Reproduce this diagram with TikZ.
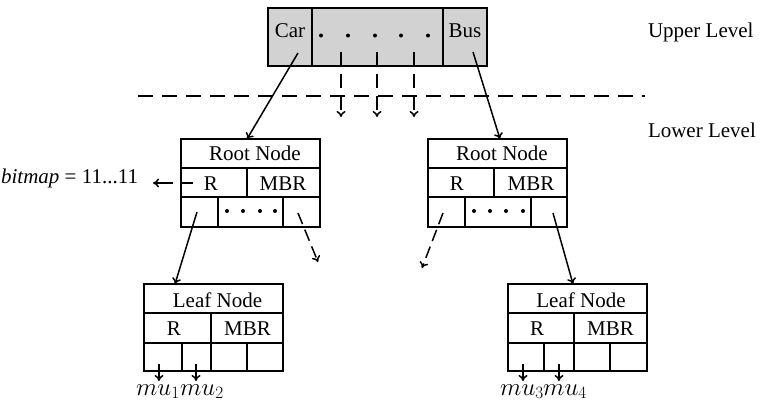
\documentclass[tikz,border=0pt]{standalone}
\usepackage{fontspec}
\setmainfont{Liberation Serif}
\usetikzlibrary{arrows.meta}
\begin{document}
\begin{tikzpicture}[x=1pt,y=-1pt,
  every node/.style={inner sep=0pt,outer sep=0pt,font=\fontsize{21}{25}\selectfont},
  box/.style={draw,line width=2.2pt,anchor=north west},
  cell/.style={line width=1.6pt},
  arr/.style={line width=1.5pt,-{To[length=6pt,width=9pt]}},
  darr/.style={arr,dash pattern=on 12pt off 6pt},
  vdarr/.style={arr,dash pattern=on 14pt off 8pt},
  dotn/.style={circle,fill,minimum size=4pt,inner sep=0pt},
  mathlbl/.style={anchor=base,font=\fontsize{23}{27}\selectfont}]
\useasboundingbox (0,0) rectangle (764,405);

% ---------- upper level box ----------
\node[box,fill=gray!35,minimum width=219pt,minimum height=58pt] (top) at (268,8) {};
\draw[cell] (312,8) -- (312,66);
\draw[cell] (443,8) -- (443,66);
\node[anchor=base] (car) at (290,37) {Car};
\node[anchor=base] (bus) at (465,37) {Bus};
\foreach \i/\x in {1/321,2/348,3/375,4/401,5/428}
  \node[dotn] (td\i) at (\x,35.5) {};

% dashed arrows down from the middle cell
\foreach \i/\x in {1/341,2/377,3/414}{
  \coordinate (ds\i) at (\x,52);
  \coordinate (de\i) at (\x,117);
  \draw[vdarr] (ds\i) -- (de\i);
}

% level separator
\coordinate (sepL) at (138,96);
\coordinate (sepR) at (645,96);
\draw[line width=1.5pt,dash pattern=on 15pt off 9pt] (sepL) -- (sepR);

\node[anchor=base west] (upper) at (648,37) {Upper Level};
\node[anchor=base west] (lower) at (648,137) {Lower Level};

% ---------- root node 1 ----------
\node[box,minimum width=139pt,minimum height=88pt] (r1) at (181,139) {};
\draw[cell] (181,168) -- (320,168);
\draw[cell] (181,197) -- (320,197);
\draw[cell] (247,168) -- (247,197);
\draw[cell] (218,197) -- (218,227);
\draw[cell] (283,197) -- (283,227);
\node (r1t) at (255,153) {Root Node};
\node (r1r) at (211,183.5) {R};
\node (r1m) at (283,183.5) {MBR};
\foreach \i/\x in {1/227,2/243,3/260,4/275}
  \node[dotn] (r1d\i) at (\x,211) {};

% ---------- root node 2 ----------
\node[box,minimum width=139pt,minimum height=88pt] (r2) at (428,139) {};
\draw[cell] (428,168) -- (567,168);
\draw[cell] (428,197) -- (567,197);
\draw[cell] (494,168) -- (494,197);
\draw[cell] (465,197) -- (465,227);
\draw[cell] (531,197) -- (531,227);
\node (r2t) at (502,153) {Root Node};
\node (r2r) at (457,183.5) {R};
\node (r2m) at (531,183.5) {MBR};
\foreach \i/\x in {1/474,2/490,3/506,4/523}
  \node[dotn] (r2d\i) at (\x,211) {};

% ---------- leaf node 1 ----------
\node[box,minimum width=139pt,minimum height=87pt] (l1) at (144,284) {};
\draw[cell] (144,313) -- (283,313);
\draw[cell] (144,343) -- (283,343);
\draw[cell] (211,313) -- (211,343);
\draw[cell] (182,343) -- (182,371);
\draw[cell] (211,343) -- (211,371);
\draw[cell] (247,343) -- (247,371);
\node (l1t) at (217.5,300) {Leaf Node};
\node (l1r) at (174,329) {R};
\node (l1m) at (247.5,329) {MBR};

% ---------- leaf node 2 ----------
\node[box,minimum width=139pt,minimum height=87pt] (l2) at (508,284) {};
\draw[cell] (508,313) -- (647,313);
\draw[cell] (508,343) -- (647,343);
\draw[cell] (574,313) -- (574,343);
\draw[cell] (544,343) -- (544,371);
\draw[cell] (574,343) -- (574,371);
\draw[cell] (610,343) -- (610,371);
\node (l2t) at (581,300) {Leaf Node};
\node (l2r) at (537,329) {R};
\node (l2m) at (610.5,329) {MBR};

% ---------- bitmap ----------
\node[anchor=base east] (bm) at (138,183) {\textit{bitmap} = 11...11};
\coordinate (bmA) at (193,183);
\coordinate (bmB) at (182,183);
\coordinate (bmC) at (173,183);
\coordinate (bmD) at (153,183);
\draw[cell] (bmA) -- (bmB);
\draw[arr] (bmC) -- (bmD);

% ---------- connectors ----------
\coordinate (carS) at (298,53);
\coordinate (r1in) at (247,139);
\draw[arr] (carS) -- (r1in);
\coordinate (busS) at (473,52);
\coordinate (r2in) at (500,139);
\draw[arr] (busS) -- (r2in);

\coordinate (r1a) at (197,212);
\coordinate (l1in) at (175,284);
\draw[arr] (r1a) -- (l1in);
\coordinate (r1b) at (298,213);
\coordinate (r1bE) at (318,262);
\draw[darr] (r1b) -- (r1bE);

\coordinate (r2a) at (443,213);
\coordinate (r2aE) at (422,268);
\draw[darr] (r2a) -- (r2aE);
\coordinate (r2b) at (553,213);
\coordinate (l2in) at (573,284);
\draw[arr] (r2b) -- (l2in);

% leaf pointers
\foreach \n/\x in {1/159,2/196,3/523,4/559}{
  \coordinate (mp\n) at (\x,364);
  \coordinate (mq\n) at (\x,381);
  \draw[arr] (mp\n) -- (mq\n);
}
\node[mathlbl] (mu1) at (158,395) {$mu_1$};
\node[mathlbl] (mu2) at (202,395) {$mu_2$};
\node[mathlbl] (mu3) at (522,395) {$mu_3$};
\node[mathlbl] (mu4) at (565,395) {$mu_4$};
\end{tikzpicture}
\end{document}
